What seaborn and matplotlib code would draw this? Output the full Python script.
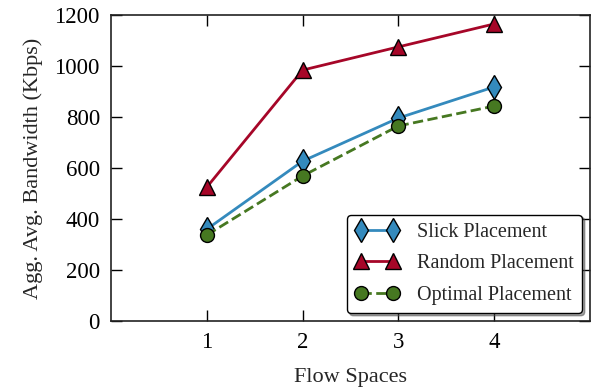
import matplotlib
matplotlib.use("Agg")
import matplotlib.pyplot as plt
import seaborn as sns
import pandas as pd

flow_spaces = [1, 2, 3, 4]
slick = [360, 627, 796, 918]
random_pl = [525, 984, 1075, 1165]
optimal = [337, 569, 765, 843]
series_names = ["Slick Placement", "Random Placement", "Optimal Placement"]
y_ticks = [0, 200, 400, 600, 800, 1000, 1200]
x_ticks = [1, 2, 3, 4]

sns.set_style("ticks")
plt.rcParams['font.family'] = ['Liberation Serif', 'DejaVu Serif']
plt.rcParams['mathtext.fontset'] = 'stix'

fig = plt.figure(figsize=(5.95, 3.91), dpi=100)
ax = fig.add_axes([0.1866, 0.179, 0.805, 0.7826])

styles = [
    dict(color="#348ABD", marker="d", linestyle="-", ms=12),
    dict(color="#A60628", marker="^", linestyle="-", ms=11),
    dict(color="#467821", marker="o", linestyle="--", ms=10),
]
for name, vals, st in zip(series_names, [slick, random_pl, optimal], styles):
    df = pd.DataFrame({"x": flow_spaces, "y": vals})
    sns.lineplot(data=df, x="x", y="y", ax=ax, color=st["color"], marker=st["marker"],
                 linestyle=st["linestyle"], markersize=st["ms"], markeredgecolor="black",
                 markeredgewidth=1.0, linewidth=2, label=name,
                 dashes=False if st["linestyle"] == "-" else (6, 4))

ax.set_xlim(0, 5)
ax.set_ylim(0, 1200)
ax.set_xticks(x_ticks)
ax.set_yticks(y_ticks)
ax.tick_params(direction="in", length=8, width=1, top=True, right=True, labelsize=16.5, colors="black", pad=8)
for s in ax.spines.values():
    s.set_color("#222222")
    s.set_linewidth(1.2)
ax.set_xlabel("Flow Spaces", fontsize=16, labelpad=11)
ax.set_ylabel("Agg. Avg. Bandwidth (Kbps)", fontsize=16, labelpad=8)

leg = ax.legend(loc="lower right", numpoints=2, handlelength=2.2, fontsize=14.5, frameon=True,
                fancybox=True, shadow=True, borderaxespad=0.4, handletextpad=0.9, labelspacing=0.62,
                borderpad=0.4)
leg.get_frame().set_edgecolor("black")
leg.get_frame().set_linewidth(1.0)
leg.get_frame().set_alpha(1.0)

fig.savefig("out.png", dpi=100)
